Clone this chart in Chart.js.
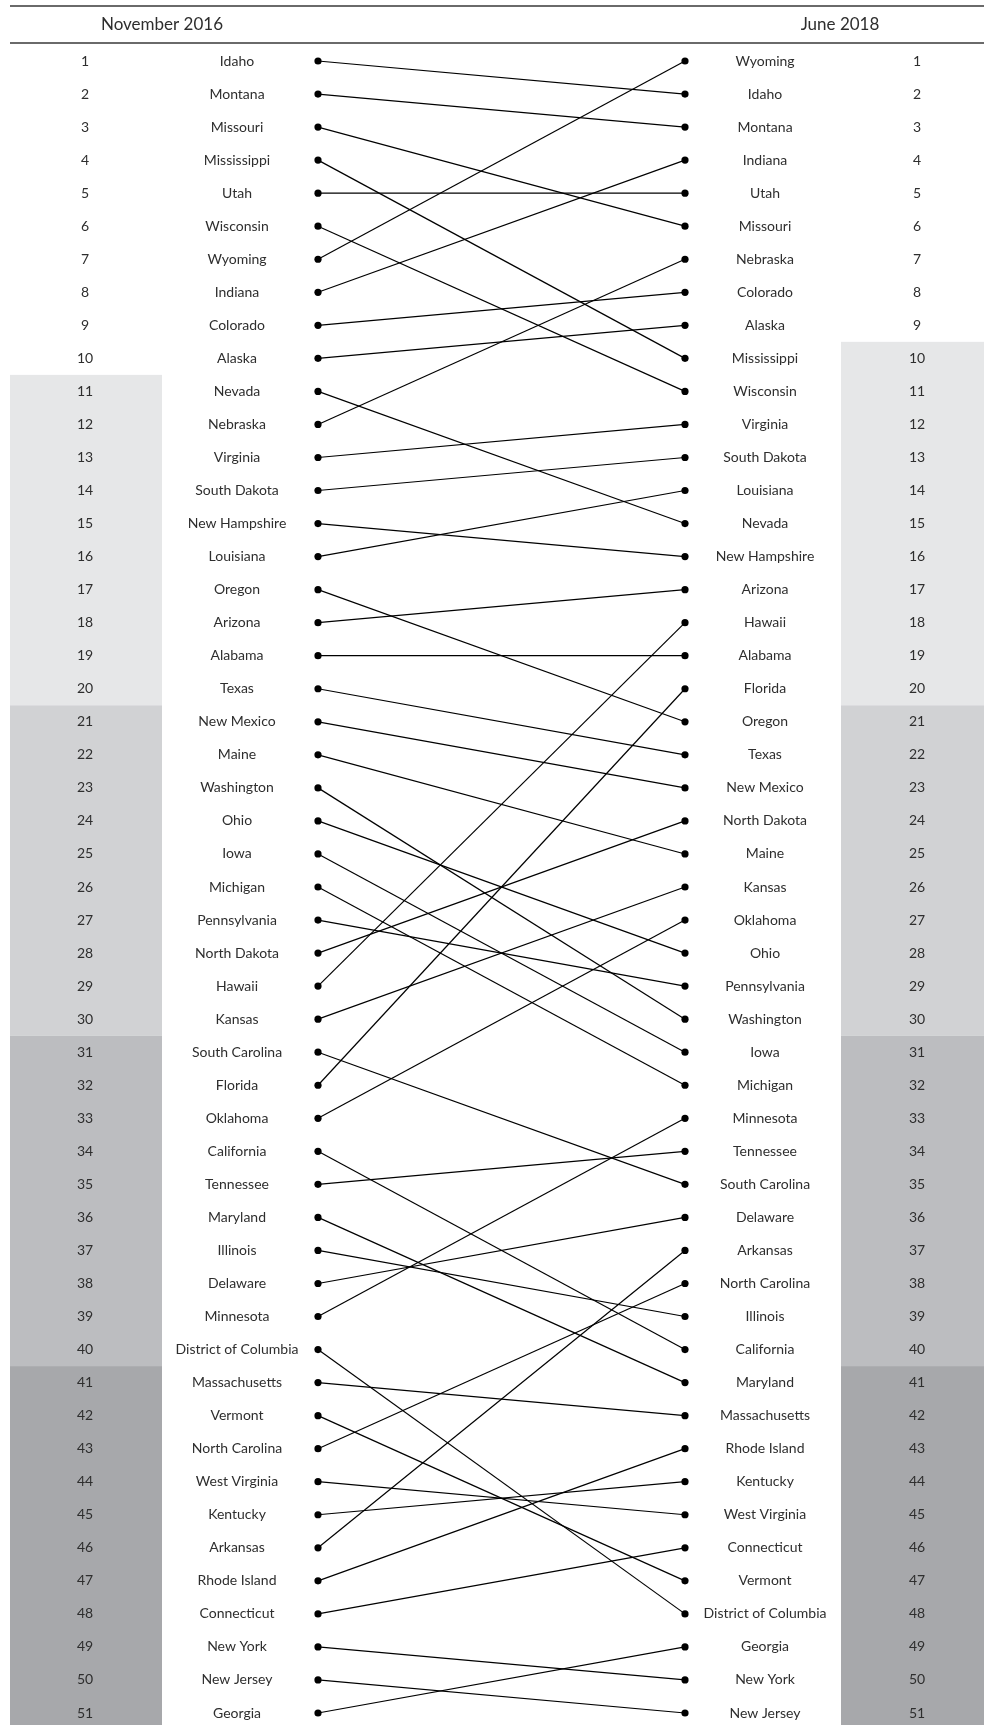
<!DOCTYPE html>
<html>
<head>
<meta charset="utf-8">
<script src="https://cdn.jsdelivr.net/npm/chart.js@4"></script>
<style>
  html, body { margin: 0; padding: 0; background: #fff; }
  #wrap { width: 984px; height: 1725px; }
</style>
</head>
<body>
<div id="wrap"><canvas id="c" width="984" height="1725"></canvas></div>
<script>
// Ranking order, November 2016 (rank 1 first)
const states2016 = [
  "Idaho","Montana","Missouri","Mississippi","Utah","Wisconsin","Wyoming","Indiana","Colorado","Alaska",
  "Nevada","Nebraska","Virginia","South Dakota","New Hampshire","Louisiana","Oregon","Arizona","Alabama","Texas",
  "New Mexico","Maine","Washington","Ohio","Iowa","Michigan","Pennsylvania","North Dakota","Hawaii","Kansas",
  "South Carolina","Florida","Oklahoma","California","Tennessee","Maryland","Illinois","Delaware","Minnesota","District of Columbia",
  "Massachusetts","Vermont","North Carolina","West Virginia","Kentucky","Arkansas","Rhode Island","Connecticut","New York","New Jersey",
  "Georgia"
];
// Ranking order, June 2018 (rank 1 first)
const states2018 = [
  "Wyoming","Idaho","Montana","Indiana","Utah","Missouri","Nebraska","Colorado","Alaska","Mississippi",
  "Wisconsin","Virginia","South Dakota","Louisiana","Nevada","New Hampshire","Arizona","Hawaii","Alabama","Florida",
  "Oregon","Texas","New Mexico","North Dakota","Maine","Kansas","Oklahoma","Ohio","Pennsylvania","Washington",
  "Iowa","Michigan","Minnesota","Tennessee","South Carolina","Delaware","Arkansas","North Carolina","Illinois","California",
  "Maryland","Massachusetts","Rhode Island","Kentucky","West Virginia","Connecticut","Vermont","District of Columbia","Georgia","New York",
  "New Jersey"
];
const rankLabels = states2016.map((_, i) => String(i + 1));
const headers = ["November 2016", "June 2018"];
// shading groups: [firstRank, lastRank]
const leftBands  = [[11, 20], [21, 30], [31, 40], [41, 51]];
const rightBands = [[10, 20], [21, 30], [31, 40], [41, 51]];
const bandColors = ["#e6e7e8", "#d1d2d4", "#bcbdc0", "#a7a8ab"];

const datasets = states2016.map((s, i) => ({
  label: s,
  data: [{x: 0, y: i + 1}, {x: 1, y: states2018.indexOf(s) + 1}],
  borderColor: "#000",
  borderWidth: 1.2,
  pointRadius: 3.6,
  pointHoverRadius: 3.6,
  pointBackgroundColor: "#000",
  pointBorderWidth: 0,
  clip: false,
  tension: 0
}));

const FONT = "Lato, 'Open Sans', sans-serif";
const TXT = "#2e2e2e";

const decor = {
  id: "decor",
  beforeDraw(chart) {
    const ctx = chart.ctx, y = chart.scales.y;
    ctx.save();
    ctx.fillStyle = "#fff";
    ctx.fillRect(0, 0, chart.width, chart.height);
    leftBands.forEach((b, i) => {
      const t = y.getPixelForValue(b[0] - 0.5), bt = y.getPixelForValue(b[1] + 0.5);
      ctx.fillStyle = bandColors[i];
      ctx.fillRect(10, t, 152, bt - t);
    });
    rightBands.forEach((b, i) => {
      const t = y.getPixelForValue(b[0] - 0.5), bt = y.getPixelForValue(b[1] + 0.5);
      ctx.fillStyle = bandColors[i];
      ctx.fillRect(841, t, 984 - 841, bt - t);
    });
    ctx.strokeStyle = "#3a3a3a";
    ctx.lineWidth = 1.5;
    ctx.beginPath();
    ctx.moveTo(10, 6); ctx.lineTo(984, 6);
    ctx.moveTo(10, 43); ctx.lineTo(984, 43);
    ctx.stroke();
    ctx.fillStyle = TXT;
    ctx.font = "17px " + FONT;
    ctx.textAlign = "center";
    ctx.textBaseline = "middle";
    ctx.fillText(headers[0], 162, 25);
    ctx.fillText(headers[1], 840, 25);
    ctx.restore();
  },
  afterDraw(chart) {
    const ctx = chart.ctx, y = chart.scales.y;
    ctx.save();
    ctx.fillStyle = TXT;
    ctx.font = "14px " + FONT;
    ctx.textAlign = "center";
    ctx.textBaseline = "middle";
    rankLabels.forEach((r, i) => {
      const py = y.getPixelForValue(i + 1);
      ctx.fillText(r, 85, py);
      ctx.fillText(states2016[i], 237, py);
      ctx.fillText(states2018[i], 765, py);
      ctx.fillText(r, 917, py);
    });
    ctx.restore();
  }
};

new Chart(document.getElementById("c"), {
  type: "line",
  data: { datasets },
  options: {
    responsive: false,
    devicePixelRatio: 1,
    animation: false,
    layout: { padding: { left: 318, right: 299, top: 61, bottom: 12 } },
    scales: {
      x: { type: "linear", min: 0, max: 1, display: false },
      y: { type: "linear", min: 1, max: 51, reverse: true, display: false }
    },
    plugins: { legend: { display: false }, tooltip: { enabled: false } }
  },
  plugins: [decor]
});
</script>
</body>
</html>
